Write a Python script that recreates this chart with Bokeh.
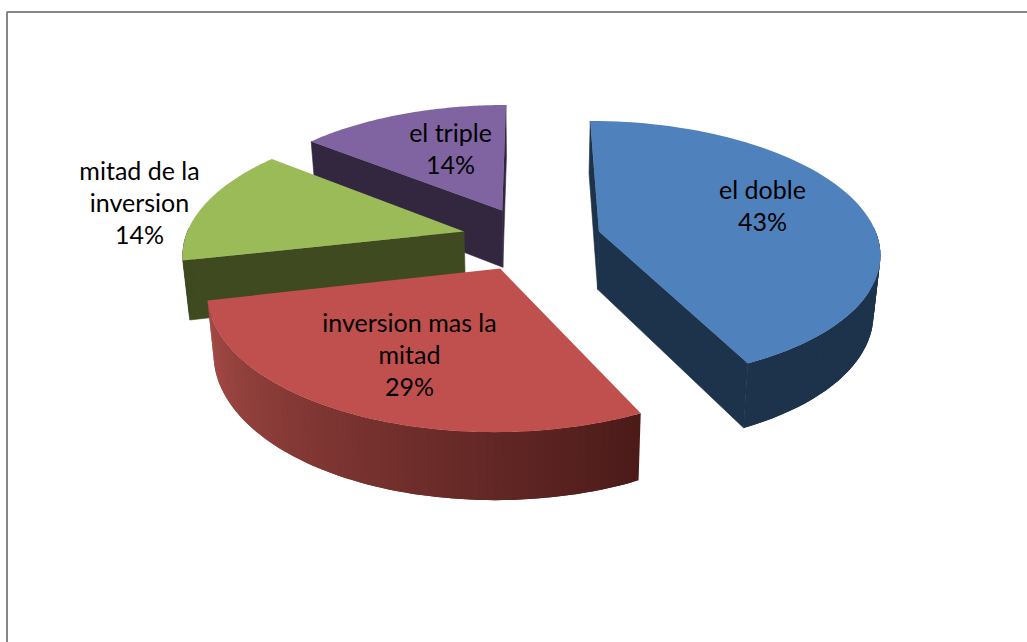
import math
from bokeh.plotting import figure
from bokeh.embed import file_html
from bokeh.resources import INLINE
from bokeh.core.properties import value as bk_value

# --- data ---
categories = ["el doble", "inversion mas la mitad", "mitad de la inversion", "el triple"]
values = [3, 2, 1, 1]
percent_labels = ["43%", "29%", "14%", "14%"]

# --- styling ---
top_colors = ["#4F81BD", "#C0504D", "#9BBB59", "#8064A2"]
cut_colors = ["#1D324B", "#4B1B19", "#3F4A20", "#32273F"]
wall_from = ["#1D324B", "#4B1B19", "#3F4A20", "#32273F"]
wall_to = ["#1D324B", "#A74B47", "#3F4A20", "#32273F"]
draw_order = [3, 2, 1, 0]
label_lines = [["el doble"], ["inversion mas la", "mitad"], ["mitad de la", "inversion"], ["el triple"]]
label_x = [762, 409, 139, 450]
label_y = [188, 321, 169, 131]
line_gap = 32

CX, CY, A, B, P, EXPL = 531, 238, 279, 129, 0.15, 0.25
TOP_Y_REF, DEPTH, DEPTH_GROW, SHRINK = 232, 58, 0.05, 0.98


def project(u, v, bottom=False):
    w = 1 - P * v
    x = CX + A * u / w
    y = CY + B * v / w
    if bottom:
        x = CX + (x - CX) * SHRINK
        y = y + DEPTH + (y - TOP_Y_REF) * DEPTH_GROW
    return x, y


def mix(c1, c2, t):
    a = [int(c1[i:i + 2], 16) for i in (1, 3, 5)]
    b = [int(c2[i:i + 2], 16) for i in (1, 3, 5)]
    return "#%02x%02x%02x" % tuple(round(a[i] + (b[i] - a[i]) * t) for i in range(3))


p = figure(width=1027, height=642, x_range=(0, 1027), y_range=(642, 0),
           output_backend="svg", toolbar_location=None, min_border=0,
           outline_line_color=None, background_fill_color="white",
           margin=(0, 0, 0, 0))
p.axis.visible = False
p.grid.visible = False
p.xaxis.visible = False
p.yaxis.visible = False

# chart frame
p.line([6.5, 6.5, 1027], [642, 11.5, 11.5], line_color="#868686", line_width=2)

total = sum(values)
angles = []
acc = 0.0
for val in values:
    angles.append((acc, acc + val / total * 2 * math.pi))
    acc += val / total * 2 * math.pi

for i in draw_order:
    t0, t1 = angles[i]
    tm = (t0 + t1) / 2
    cu, cv = EXPL * math.sin(tm), -EXPL * math.cos(tm)
    n = 72
    thetas = [t0 + (t1 - t0) * k / n for k in range(n + 1)]
    arc = [(cu + math.sin(t), cv - math.cos(t)) for t in thetas]

    # cut faces, only those turned towards the viewer
    xs, ys, cols = [], [], []
    for end, facing in ((arc[0], -math.sin(t0)), (arc[-1], math.sin(t1))):
        if facing < -1e-6:
            continue
        q = [project(cu, cv), project(*end), project(*end, bottom=True), project(cu, cv, bottom=True)]
        xs.append([a[0] for a in q])
        ys.append([a[1] for a in q])
        cols.append(cut_colors[i])
    if xs:
        p.patches(xs, ys, fill_color=cols, line_color=cols, line_width=0.6)

    # outer wall: overlapping strips, front-facing part only
    xs, ys, cols = [], [], []
    for k in range(n):
        if -math.cos(thetas[k]) < -0.02 and -math.cos(thetas[k + 1]) < -0.02:
            continue
        k2 = min(k + 2, n)
        q = [project(*arc[k]), project(*arc[k + 1]), project(*arc[k2]),
             project(*arc[k2], bottom=True), project(*arc[k + 1], bottom=True), project(*arc[k], bottom=True)]
        xs.append([a[0] for a in q])
        ys.append([a[1] for a in q])
        cols.append(mix(wall_from[i], wall_to[i], (k + 0.5) / n))
    if xs:
        p.patches(xs, ys, fill_color=cols, line_color=None)

    # top surface
    pts = [project(cu, cv)] + [project(*a) for a in arc]
    p.patch([a[0] for a in pts], [a[1] for a in pts], fill_color=top_colors[i], line_color=None)

# labels
tx, ty, tt = [], [], []
for i in range(len(categories)):
    rows = label_lines[i] + [percent_labels[i]]
    for r, row in enumerate(rows):
        tx.append(label_x[i])
        ty.append(label_y[i] + r * line_gap)
        tt.append(row)
p.text(tx, ty, text=tt, text_font=bk_value("Lato"), text_font_size="25px", text_color="#000000",
       text_align="center", text_baseline="middle")

open("out.html", "w").write(file_html(p, INLINE))
